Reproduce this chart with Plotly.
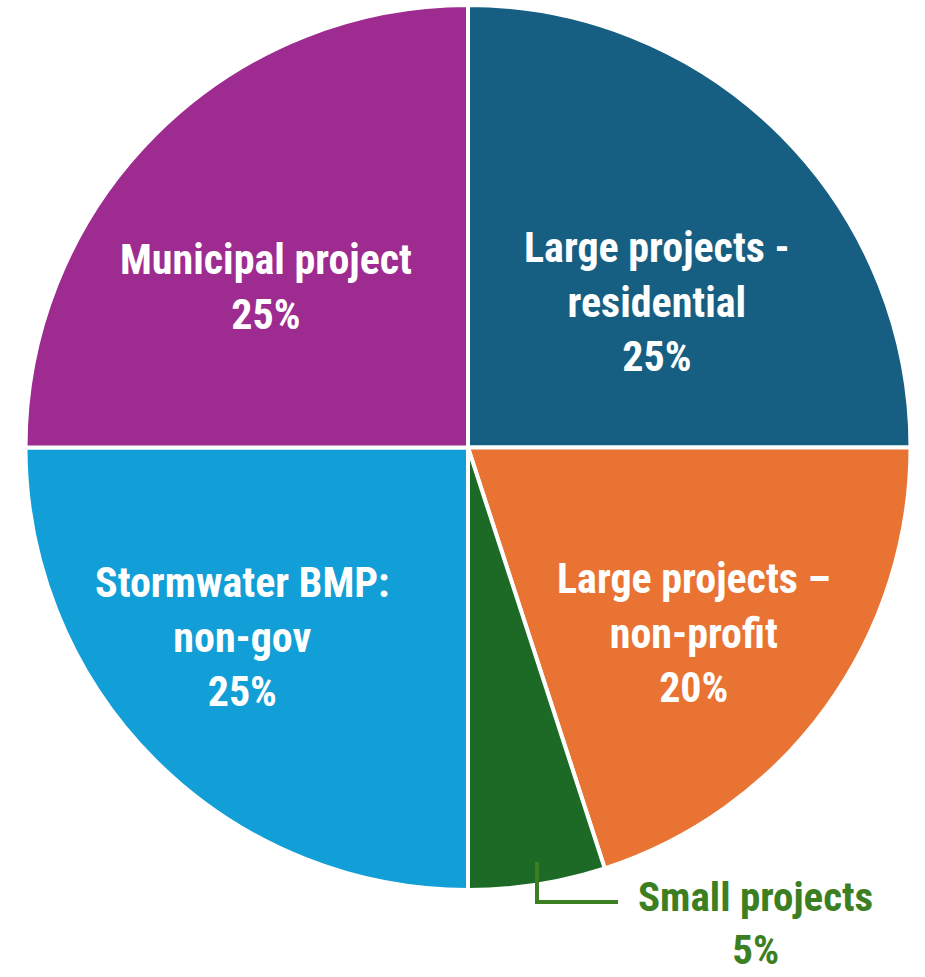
import plotly.graph_objects as go

categories = ["Large projects - residential", "Large projects – non-profit", "Small projects",
              "Stormwater BMP: non-gov", "Municipal project"]
values = [25, 20, 5, 25, 25]
colors = ["#175F82", "#E97333", "#1C6A25", "#129ED6", "#9E2B8F"]

label_texts = ["Large projects -<br>residential<br>25%",
               "Large projects –<br>non-profit<br>20%",
               "Small projects<br>5%",
               "Stormwater BMP:<br>non-gov<br>25%",
               "Municipal project<br>25%"]
label_pos = [(657, 302), (694, 633), (755, 923), (242, 637), (266, 287)]
label_colors = ["white", "white", "#3C7F23", "white", "white"]
label_sizes = [42, 42, 41, 42, 42]

W, H = 925, 977
FONT = "Roboto Condensed, Liberation Sans Narrow, Arial Narrow, Roboto, sans-serif"

fig = go.Figure(go.Pie(
    labels=categories, values=values, sort=False, direction="clockwise", rotation=0,
    marker=dict(colors=colors, line=dict(color="white", width=4)),
    textinfo="none", hoverinfo="label+percent", showlegend=False,
    domain=dict(x=[25 / W, 911 / W], y=[1 - 890 / H, 1 - 5 / H]),
))

for txt, (x, y), c, s in zip(label_texts, label_pos, label_colors, label_sizes):
    fig.add_annotation(x=x / W, y=1 - y / H, xref="paper", yref="paper", text=txt,
                       showarrow=False, xanchor="center", yanchor="middle",
                       font=dict(family=FONT, size=s, color=c, weight=700))

# leader line for small projects
fig.add_shape(type="path", xref="paper", yref="paper",
              path=f"M {537/W},{1-862/H} L {537/W},{1-902/H} L {618/W},{1-902/H}",
              line=dict(color="#3C7F23", width=4))

fig.update_layout(width=W, height=H, margin=dict(l=0, r=0, t=0, b=0),
                  paper_bgcolor="white", plot_bgcolor="white")
fig.write_html("out.html", config={"displayModeBar": False},
               post_script="document.body.style.margin='0';document.body.style.overflow='hidden';")
